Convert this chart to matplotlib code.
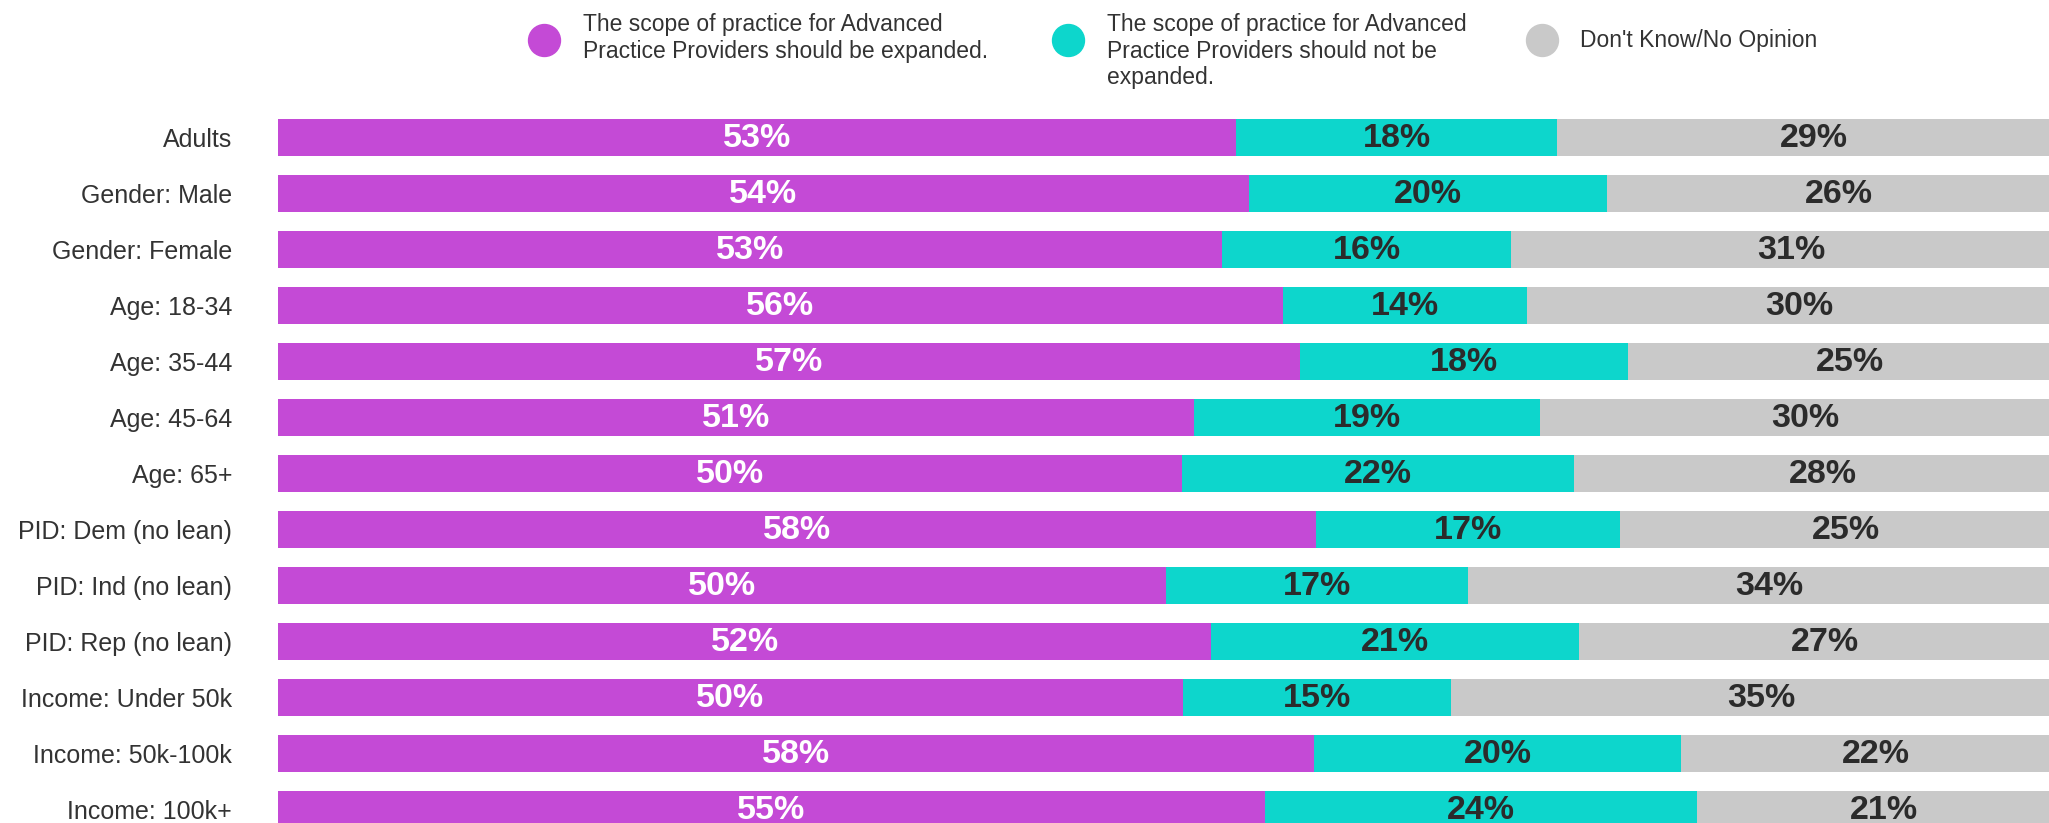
import matplotlib
matplotlib.use("Agg")
import matplotlib.pyplot as plt
from matplotlib.lines import Line2D
import numpy as np

categories = ["Adults", "Gender: Male", "Gender: Female", "Age: 18-34", "Age: 35-44",
              "Age: 45-64", "Age: 65+", "PID: Dem (no lean)", "PID: Ind (no lean)",
              "PID: Rep (no lean)", "Income: Under 50k", "Income: 50k-100k", "Income: 100k+"]
expanded = [53.43, 54.15, 52.65, 56.05, 57.00, 51.09, 50.42, 57.89, 49.53, 52.04, 50.47, 57.78, 55.05]
not_expanded = [17.90, 19.97, 16.12, 13.61, 18.29, 19.30, 21.86, 16.95, 16.84, 20.52, 14.95, 20.47, 24.09]
dont_know = [28.67, 25.88, 31.23, 30.34, 24.71, 29.61, 27.72, 25.16, 33.63, 27.44, 34.58, 21.75, 20.86]
series_names = ["The scope of practice for Advanced\nPractice Providers should be expanded.",
                "The scope of practice for Advanced\nPractice Providers should not be\nexpanded.",
                "Don't Know/No Opinion"]
colors = ["#C44AD6", "#0DD6CC", "#C9C9C9"]
text_colors = ["white", "#2b2b2b", "#2b2b2b"]

plt.rcParams['font.family'] = ['Liberation Sans', 'DejaVu Sans']

W, H = 2049, 823
fig = plt.figure(figsize=(W / 100, H / 100), dpi=100)
ax = fig.add_axes([278 / W, 0, 1 - 278 / W, 1])

y = np.arange(len(categories))
left = np.zeros(len(categories))
for vals, col, tcol in zip([expanded, not_expanded, dont_know], colors, text_colors):
    vals = np.array(vals, dtype=float)
    bars = ax.barh(y, vals, left=left, height=0.655, color=col, edgecolor='none')
    for b, v in zip(bars, vals):
        ax.text(b.get_x() + b.get_width() / 2, b.get_y() + b.get_height() / 2 + 0.02,
                f"{v:.0f}%", ha='center', va='center', color=tcol,
                fontsize=24.5, fontweight='bold')
    left += vals

ax.set_xlim(0, 98.77)
ax.set_ylim(12.245, -2.452)
ax.set_yticks(y)
ax.set_yticklabels(categories, fontsize=18, color="#333333")
ax.tick_params(axis='y', length=0, pad=33)
ax.set_xticks([])
for s in ax.spines.values():
    s.set_visible(False)

# legend (manual placement)
leg_marker_x = [544, 1068, 1542]
leg_text_x = [583, 1107, 1580]
for i, (mx, tx, col, name) in enumerate(zip(leg_marker_x, leg_text_x, colors, series_names)):
    fig.add_artist(Line2D([mx / W], [1 - 40 / H], marker='o', markersize=23,
                          color=col, linestyle='none', transform=fig.transFigure))
    if i < 2:
        fig.text(tx / W, 1 - 13 / H, name, ha='left', va='top', fontsize=16.5,
                 color="#333333", linespacing=1.2)
    else:
        fig.text(tx / W, 1 - 41 / H, name, ha='left', va='center', fontsize=16.5,
                 color="#333333")

fig.savefig("out.png", dpi=100)
